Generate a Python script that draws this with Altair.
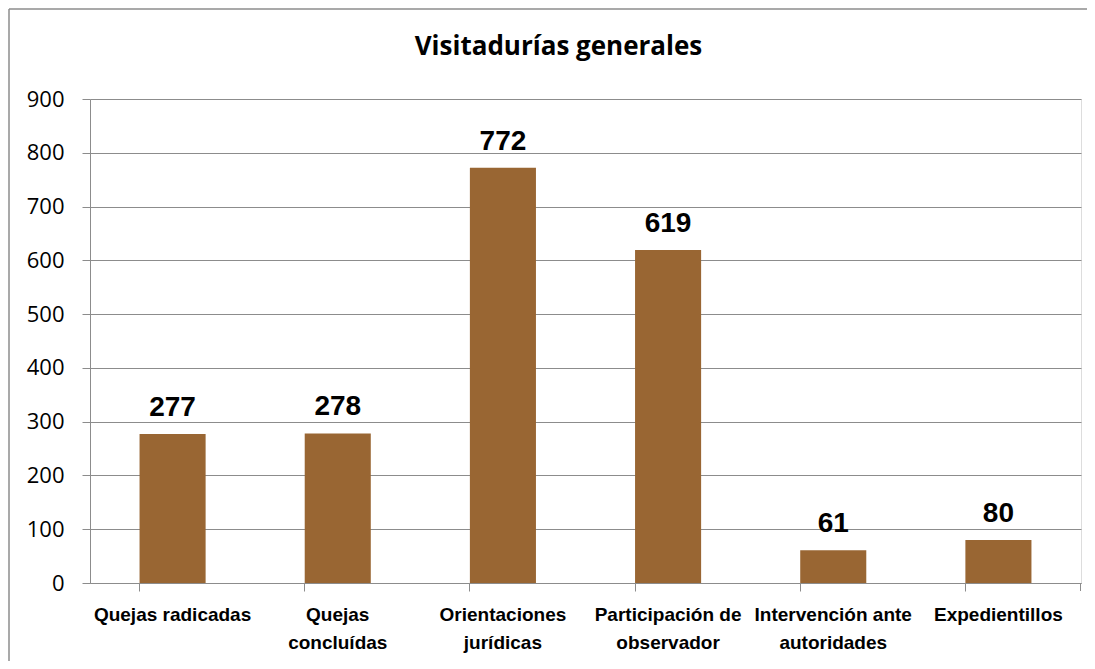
import altair as alt
import pandas as pd

categories = [
    "Quejas radicadas",
    "Quejas concluídas",
    "Orientaciones jurídicas",
    "Participación de observador",
    "Intervención ante autoridades",
    "Expedientillos",
]
values = [277, 278, 772, 619, 61, 80]
label_lines = [
    ["Quejas radicadas"],
    ["Quejas", "concluídas"],
    ["Orientaciones", "jurídicas"],
    ["Participación de", "observador"],
    ["Intervención ante", "autoridades"],
    ["Expedientillos"],
]
y_ticks = [0, 100, 200, 300, 400, 500, 600, 700, 800, 900]
title_text = "Visitadurías generales"

df = pd.DataFrame({"cat": categories, "val": values})


def arr(lines):
    return "[" + ",".join("'" + s + "'" for s in lines) + "]"


expr = "datum.label"
for c, lines in reversed(list(zip(categories, label_lines))):
    expr = f"datum.label == '{c}' ? {arr(lines)} : ({expr})"

W, H = 991, 484
GRAY = "#8c8c8c"
BOLDF = "Liberation Sans, Arial, sans-serif"

xscale = alt.Scale(paddingInner=0.6, paddingOuter=0.3)
yscale = alt.Scale(domain=[0, 900], nice=False)

bars = alt.Chart(df).mark_bar(color="#996633").encode(
    x=alt.X(
        "cat:N",
        sort=categories,
        scale=xscale,
        axis=alt.Axis(
            title=None,
            labelAngle=0,
            labelExpr=expr,
            labelFont=BOLDF,
            labelFontWeight="bold",
            labelFontSize=19,
            labelColor="black",
            labelLineHeight=28,
            labelPadding=14,
            tickSize=8,
            tickColor=GRAY,
            domainColor=GRAY,
            bandPosition=0,
            grid=False,
            labelLimit=300,
        ),
    ),
    y=alt.Y(
        "val:Q",
        scale=yscale,
        axis=alt.Axis(
            title=None,
            values=y_ticks,
            labelFont="Open Sans",
            labelFontSize=22,
            labelColor="black",
            labelPadding=18,
            tickSize=8,
            tickColor=GRAY,
            domainColor=GRAY,
            gridColor=GRAY,
        ),
    ),
)

texts = alt.Chart(df).mark_text(
    font=BOLDF, fontWeight="bold", fontSize=28, baseline="alphabetic", dy=-18, color="black"
).encode(
    x=alt.X("cat:N", sort=categories, scale=xscale),
    y=alt.Y("val:Q", scale=yscale),
    text="val:Q",
)

one = pd.DataFrame({"a": [0]})
title_mark = alt.Chart(one).mark_text(
    font="Open Sans", fontWeight="bold", fontSize=26, baseline="alphabetic",
    align="center", color="black",
).encode(
    x=alt.value(W / 2 - 27), y=alt.value(-44), text=alt.value(title_text)
)
frame_left = alt.Chart(one).mark_rule(color=GRAY, strokeWidth=1.5).encode(
    x=alt.value(-81), y=alt.value(-90), y2=alt.value(H + 78)
)
frame_top = alt.Chart(one).mark_rule(color=GRAY, strokeWidth=1.5).encode(
    x=alt.value(-81), x2=alt.value(W + 6), y=alt.value(-90)
)
last_tick = alt.Chart(one).mark_rule(color=GRAY).encode(
    x=alt.value(W - 0.5), y=alt.value(H), y2=alt.value(H + 8)
)

chart = alt.layer(bars, texts, title_mark, frame_left, frame_top, last_tick).properties(
    width=W,
    height=H,
    padding={"left": 82, "top": 91, "right": 6, "bottom": 78},
    autosize=alt.AutoSizeParams(type="none"),
).configure_view(stroke=None).configure(background="white")

chart.save("out.html", embed_options={"renderer": "svg", "actions": False})
